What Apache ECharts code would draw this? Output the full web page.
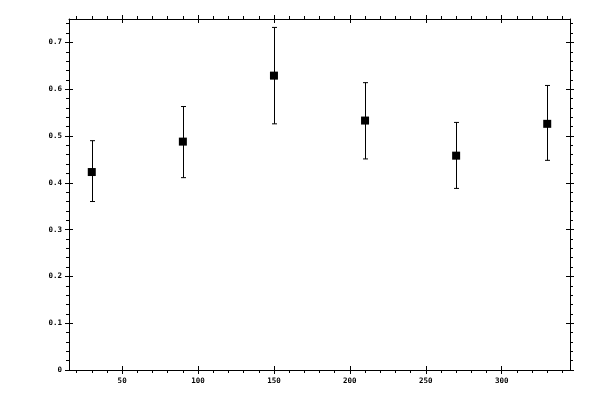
<!DOCTYPE html>
<html>
<head>
<meta charset="utf-8">
<script src="https://cdn.jsdelivr.net/npm/echarts@6/dist/echarts.min.js"></script>
<style>
  html, body { margin: 0; padding: 0; background: #fff; }
  #chart { width: 600px; height: 400px; }
</style>
</head>
<body>
<div id="chart"></div>
<script>
// data
const xs = [30, 90, 150, 210, 270, 330]
const means = [0.423, 0.488, 0.629, 0.533, 0.458, 0.526]
const lows = [0.360, 0.411, 0.526, 0.451, 0.388, 0.448]
const highs = [0.490, 0.563, 0.732, 0.614, 0.529, 0.608]

const xMajor = [50, 100, 150, 200, 250, 300]
const xMinor = [20, 30, 40, 60, 70, 80, 90, 110, 120, 130, 140, 160, 170, 180, 190,
  210, 220, 230, 240, 260, 270, 280, 290, 310, 320, 330, 340]
const yMajor = [0, 0.1, 0.2, 0.3, 0.4, 0.5, 0.6, 0.7]
const yMinor = [0.02, 0.04, 0.06, 0.08, 0.12, 0.14, 0.16, 0.18, 0.22, 0.24, 0.26, 0.28,
  0.32, 0.34, 0.36, 0.38, 0.42, 0.44, 0.46, 0.48, 0.52, 0.54, 0.56, 0.58,
  0.62, 0.64, 0.66, 0.68, 0.72, 0.74]

const ink = '#000'
const font = {color: ink, fontSize: 7.5, fontWeight: 'bold', fontFamily: 'DejaVu Sans Mono'}

// one axis layer: line, ticks (custom values), optional labels
function axis(kind, position, ticks, opts) {
  const o = Object.assign({line: false, inside: false, len: 4, labels: false}, opts)
  const base = kind === 'x' ? {min: 15, max: 345} : {min: 0, max: 0.75}
  return Object.assign(base, {
    type: 'value',
    position: position,
    splitLine: {show: false},
    axisLine: {show: o.line, onZero: false, lineStyle: {color: ink, width: 1}},
    axisTick: {
      show: true,
      inside: o.inside,
      length: o.len,
      customValues: ticks,
      lineStyle: {color: ink, width: 1}
    },
    axisLabel: o.labels
      ? Object.assign({show: true, customValues: ticks, margin: 7,
          formatter: v => String(v)}, font)
      : {show: false, customValues: ticks}
  })
}

const chart = echarts.init(document.getElementById('chart'))

chart.setOption({
  animation: false,
  backgroundColor: '#fff',
  grid: {left: 69, right: 30, top: 19, bottom: 30},
  xAxis: [
    axis('x', 'bottom', xMajor, {line: true, labels: true}),
    axis('x', 'bottom', xMajor, {inside: true}),
    axis('x', 'bottom', xMinor, {len: 3}),
    axis('x', 'top', xMajor, {line: true}),
    axis('x', 'top', xMajor, {inside: true}),
    axis('x', 'top', xMinor, {len: 3})
  ],
  yAxis: [
    axis('y', 'left', yMajor, {line: true, labels: true}),
    axis('y', 'left', yMajor, {inside: true}),
    axis('y', 'left', yMinor, {len: 3}),
    axis('y', 'right', yMajor, {line: true}),
    axis('y', 'right', yMajor, {inside: true}),
    axis('y', 'right', yMinor, {len: 3})
  ],
  series: [
    {
      type: 'custom',
      xAxisIndex: 0,
      yAxisIndex: 0,
      data: xs.map((x, i) => [x, lows[i], highs[i]]),
      renderItem(params, api) {
        const lo = api.coord([api.value(0), api.value(1)])
        const hi = api.coord([api.value(0), api.value(2)])
        const cx = Math.round(lo[0]) + 0.5
        const w = 2.5
        const style = {stroke: ink, lineWidth: 1}
        return {
          type: 'group',
          children: [
            {type: 'line', shape: {x1: cx, y1: hi[1], x2: cx, y2: lo[1]}, style},
            {type: 'line', shape: {x1: cx - w, y1: hi[1], x2: cx + w, y2: hi[1]}, style},
            {type: 'line', shape: {x1: cx - w, y1: lo[1], x2: cx + w, y2: lo[1]}, style}
          ]
        }
      }
    },
    {
      type: 'scatter',
      xAxisIndex: 0,
      yAxisIndex: 0,
      symbol: 'rect',
      symbolSize: 8,
      itemStyle: {color: ink, opacity: 1},
      z: 5,
      data: xs.map((x, i) => [x, means[i]])
    }
  ]
})
</script>
</body>
</html>
